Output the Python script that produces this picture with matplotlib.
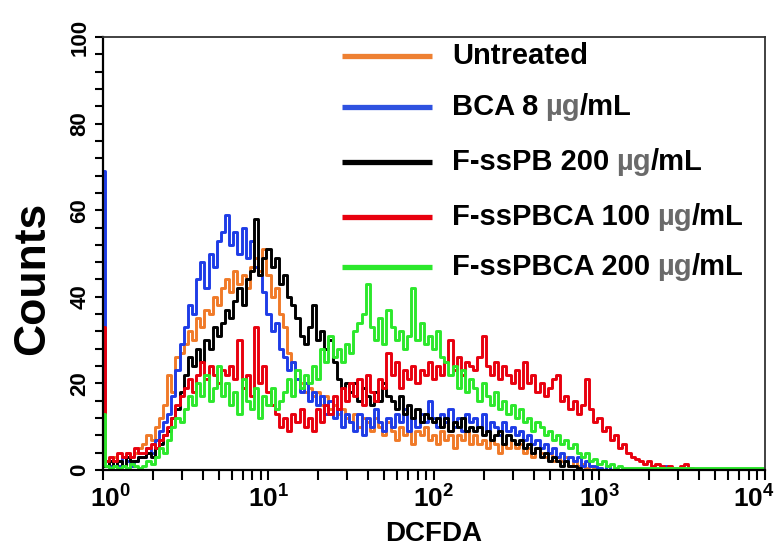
import numpy as np
import matplotlib
matplotlib.use("Agg")
import matplotlib.pyplot as plt
import matplotlib.transforms as mtransforms
from matplotlib.ticker import MultipleLocator, FixedLocator, FixedFormatter, LogLocator, NullFormatter

plt.rcParams['font.family'] = ['Liberation Sans', 'DejaVu Sans']
plt.rcParams['font.weight'] = 'bold'
plt.rcParams['mathtext.fontset'] = 'custom'
plt.rcParams['mathtext.rm'] = 'Liberation Sans:bold'
plt.rcParams['mathtext.bf'] = 'Liberation Sans:bold'

# histogram channels: 40 log-spaced channels per decade from 10^0 to 10^4
bins_per_decade = 40
channels = 10 ** (np.arange(161) / bins_per_decade)

series_names = ["Untreated", "BCA 8 ", "F-ssPB 200 ", "F-ssPBCA 100 ", "F-ssPBCA 200 "]
series_units = ["", "µg", "µg", "µg", "µg"]

untreated = [3, 2, 1, 3, 2, 3, 4, 3, 4, 5,
             6, 8, 7, 10, 12, 15, 22, 18, 26, 27,
             29, 32, 30, 35, 33, 37, 36, 40, 38, 42,
             44, 41, 46, 43, 45, 42, 47, 49, 46, 51,
             45, 40, 42, 36, 33, 27, 25, 21, 20, 18,
             19, 17, 18, 15, 17, 14, 15, 13, 14, 12,
             11, 13, 10, 12, 11, 9, 12, 10, 8, 11,
             9, 7, 10, 8, 9, 6, 9, 8, 10, 7,
             8, 6, 9, 7, 8, 5, 8, 7, 9, 6,
             8, 6, 7, 5, 7, 6, 4, 6, 5, 7,
             5, 6, 4, 5, 3, 5, 4, 3, 4, 2,
             3, 2, 3, 1, 2, 1, 1.5, 0.5, 1, 0.5,
             0.5, 0, 0]

bca8 = [69, 2, 1, 2, 1, 3, 2, 1, 2, 3,
        3, 5, 4, 7, 9, 11, 13, 17, 23, 29,
        33, 38, 36, 44, 48, 42, 50, 47, 53, 55,
        59, 52, 55, 50, 56, 49, 53, 47, 45, 41,
        36, 32, 34, 28, 26, 23, 25, 21, 18, 20,
        16, 18, 15, 17, 13, 16, 12, 14, 10, 13,
        11, 9, 13, 8, 12, 10, 14, 11, 9, 12,
        10, 13, 11, 14, 9, 12, 10, 13, 11, 16,
        12, 10, 13, 11, 14, 10, 12, 9, 13, 11,
        12, 10, 13, 9, 11, 10, 8, 11, 9, 10,
        8, 9, 7, 8, 6, 7, 5, 6, 4, 5,
        3, 4, 2, 3, 2, 3, 1, 2, 1, 1,
        0.5, 0, 1, 0, 0, 0, 0, 0, 0, 0,
        0, 0, 0, 0, 0, 0, 1, 0, 0]

fsspb200 = [1, 1, 2, 1, 2, 1, 3, 2, 2, 3,
            3, 4, 3, 5, 6, 8, 9, 12, 14, 18,
            22, 26, 24, 28, 25, 30, 28, 33, 31, 34,
            37, 35, 39, 42, 38, 44, 46, 58, 45, 49,
            51, 47, 49, 43, 45, 40, 38, 35, 31, 29,
            33, 38, 30, 32, 28, 30, 25, 21, 19, 20,
            18, 20, 16, 19, 17, 15, 18, 16, 20, 17,
            16, 14, 17, 13, 15, 12, 14, 11, 13, 12,
            11, 12, 10, 12, 9, 11, 10, 12, 9, 10,
            9, 10, 8, 9, 7, 8, 9, 6, 8, 7,
            6, 7, 5, 6, 4, 5, 3, 4, 2, 3,
            2, 1, 2, 1, 1, 0.5, 0, 0]

fsspbca100 = [33, 2, 3, 2, 4, 3, 4, 3, 5, 4,
              4, 5, 6, 5, 7, 8, 10, 12, 15, 17,
              19, 21, 18, 22, 25, 21, 24, 22, 20, 23,
              22, 24, 21, 30, 19, 22, 17, 33, 20, 24,
              18, 15, 13, 10, 12, 9, 13, 11, 14, 10,
              12, 9, 14, 11, 15, 13, 17, 14, 19, 16,
              20, 17, 21, 15, 22, 18, 16, 21, 19, 27,
              22, 25, 19, 23, 21, 24, 20, 23, 22, 25,
              21, 24, 22, 25, 30, 23, 26, 22, 25, 24,
              23, 26, 31, 24, 22, 25, 21, 24, 22, 20,
              23, 19, 25, 20, 22, 18, 20, 17, 19, 21,
              22, 16, 17, 14, 16, 13, 15, 21, 14, 11,
              12, 9, 10, 7, 8, 5, 6, 4, 3, 2.5,
              2, 1.5, 2, 1, 1.5, 1, 0.5, 1, 0.5, 0.5,
              1, 1.5, 0.5, 0, 0, 0]

fsspbca200 = [13, 1, 0.5, 1, 0.5, 1, 0.5, 1.5, 1, 0.5,
              1, 2, 1.5, 3, 5, 4, 7, 10, 12, 11,
              14, 17, 15, 20, 17, 22, 16, 19, 24, 17,
              20, 15, 18, 13, 21, 16, 14, 19, 12, 17,
              15, 19, 14, 16, 18, 21, 17, 23, 19, 22,
              20, 24, 21, 28, 25, 31, 26, 28, 25, 29,
              27, 32, 34, 36, 43, 33, 30, 35, 29, 37,
              33, 30, 32, 28, 31, 42, 30, 34, 29, 31,
              28, 32, 26, 25, 22, 24, 19, 23, 18, 21,
              19, 16, 20, 17, 15, 18, 14, 16, 13, 15,
              12, 14, 11, 12, 9, 11, 10, 8, 9, 7,
              8, 6, 7, 5, 6, 4, 3, 4, 2, 2.5,
              1.5, 2, 1, 1.5, 0.5, 1, 0.5, 0.5, 0.5, 0.5,
              0.5, 0.5, 0.5, 0.5, 0.5, 0.5, 0.5, 0.5, 0.5, 0.5,
              0.5, 0.5, 0.5, 0.5, 0.5, 0.5, 0.5, 0.5, 0.5, 0.5,
              0.5, 0.5, 0.5, 0.5, 0.5, 0.5, 0.5, 0.5, 0.5, 0.5,
              0.5]

all_series = [untreated, bca8, fsspb200, fsspbca100, fsspbca200]
colors = ["#F07A28", "#1E3CE6", "#000000", "#E8000E", "#2CE82C"]
legend_colors = ["#EE8032", "#2F52E0", "#000000", "#E8000E", "#2CE82C"]

x_ticks = [1, 10, 100, 1000, 10000]
x_tick_labels = [r"$\mathbf{10^{0}}$", r"$\mathbf{10^{1}}$", r"$\mathbf{10^{2}}$",
                 r"$\mathbf{10^{3}}$", r"$\mathbf{10^{4}}$"]
y_ticks = [0, 20, 40, 60, 80, 100]

fig = plt.figure(figsize=(7.83, 5.54), dpi=100)
ax = fig.add_axes([0.1315, 0.1516, 0.8455, 0.7816])

for vals, col in zip(all_series, colors):
    ax.plot(channels[:len(vals)], vals, drawstyle="steps-mid", color=col, lw=2.1)

ax.set_xscale("log")
ax.set_xlim(1, 10000)
ax.set_ylim(0, 100)

ax.xaxis.set_major_locator(FixedLocator(x_ticks))
ax.xaxis.set_major_formatter(FixedFormatter(x_tick_labels))
ax.xaxis.set_minor_locator(LogLocator(base=10, subs=np.arange(2, 10)))
ax.xaxis.set_minor_formatter(NullFormatter())
ax.yaxis.set_major_locator(FixedLocator(y_ticks))
ax.yaxis.set_minor_locator(MultipleLocator(4))

ax.tick_params(axis="x", which="both", direction="out", length=7, width=1.5,
               labelsize=19, pad=4, top=False)
ax.tick_params(axis="y", which="both", direction="out", length=6, width=1.5,
               labelsize=16, pad=3, right=False)
for lab in ax.get_yticklabels():
    lab.set_rotation(90)
    lab.set_va("center")
    lab.set_fontweight("bold")

# keep first/last x tick labels inside the figure like the original
xlabs = ax.get_xticklabels()
xlabs[0].set_transform(xlabs[0].get_transform() +
                       mtransforms.ScaledTranslation(8 / 100, 0, fig.dpi_scale_trans))
xlabs[-1].set_transform(xlabs[-1].get_transform() +
                        mtransforms.ScaledTranslation(-11 / 100, 0, fig.dpi_scale_trans))

for side in ["left", "bottom"]:
    ax.spines[side].set_linewidth(1.6)
for side in ["top", "right"]:
    ax.spines[side].set_linewidth(1.3)
    ax.spines[side].set_color("#333333")

ax.set_xlabel("DCFDA", fontsize=20, fontweight="bold", labelpad=6)
ax.set_ylabel("Counts", fontsize=32, fontweight="bold")
ax.yaxis.set_label_coords(-0.076, 0.443)

# legend drawn manually (µg shown in grey as in original)
rows_y = [0.956, 0.838, 0.711, 0.584, 0.469]
for name, unit, col, yy in zip(series_names, series_units, legend_colors, rows_y):
    ax.plot([0.361, 0.497], [yy, yy], transform=ax.transAxes, color=col, lw=3.8,
            solid_capstyle="butt", clip_on=False)
    t1 = ax.text(0.527, yy, name.rstrip(), transform=ax.transAxes,
                 fontsize=21, fontweight="bold", va="center", ha="left")
    if unit:
        t2 = ax.annotate(unit, xy=(1, 0), xycoords=t1, xytext=(5, 0),
                         textcoords="offset points", fontsize=21, fontweight="bold",
                         color="#6a6a6a", va="bottom", ha="left")
        ax.annotate("/mL", xy=(1, 0), xycoords=t2, fontsize=21, fontweight="bold",
                    color="black", va="bottom", ha="left")

fig.savefig("out.png", dpi=100)
